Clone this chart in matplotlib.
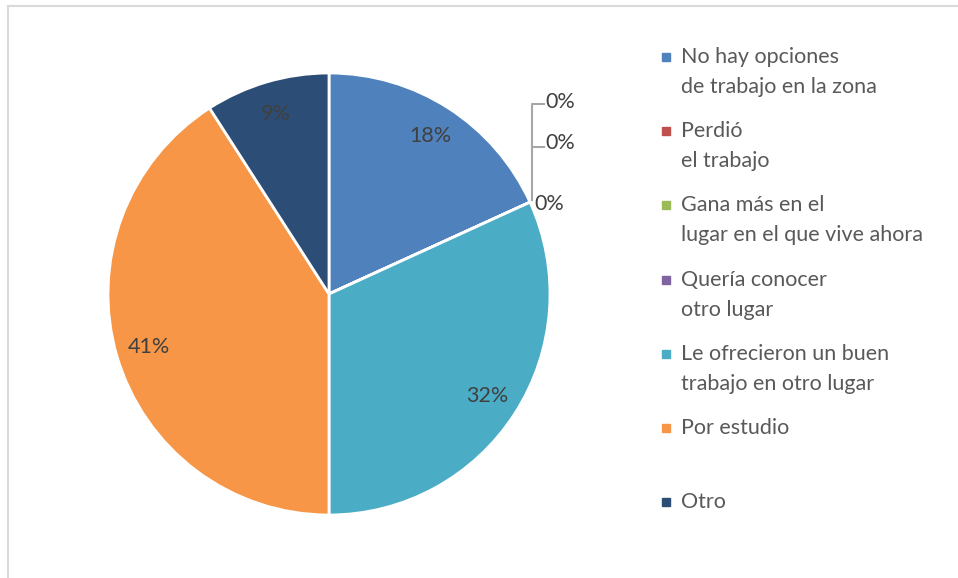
import numpy as np
import matplotlib
matplotlib.use('Agg')
from matplotlib import pyplot as plt

categories = ['No hay opciones\nde trabajo en la zona', 'Perdió\nel trabajo',
              'Gana más en el\nlugar en el que vive ahora', 'Quería conocer\notro lugar',
              'Le ofrecieron un buen\ntrabajo en otro lugar', 'Por estudio', 'Otro']
counts = [4, 0, 0, 0, 7, 9, 2]
colors = ['#4F81BD', '#C0504D', '#9BBB59', '#8064A2', '#4BACC6', '#F79646', '#2C4D75']

plt.rcParams['font.family'] = ['Lato', 'DejaVu Sans']
W, H = 958, 578
fs = 15.5
fig = plt.figure(figsize=(W / 100, H / 100), dpi=100)

# chart border (only left and top visible)
fig.add_artist(plt.Line2D([8 / W, 8 / W], [0, 1 - 6 / H], color='#D9D9D9', lw=1.5))
fig.add_artist(plt.Line2D([8 / W, 1], [1 - 6 / H, 1 - 6 / H], color='#D9D9D9', lw=1.5))

cx, cy, r = 329, 294, 221
ax = fig.add_axes([(cx - r) / W, (H - cy - r) / H, 2 * r / W, 2 * r / H])
total = sum(counts)

def fmt(p):
    return '' if p < 0.5 else f'{p:.0f}%'

wedges, texts, autotexts = ax.pie(counts, colors=colors, startangle=90, counterclock=False,
                                  autopct=fmt, pctdistance=0.85,
                                  wedgeprops={'edgecolor': 'white', 'linewidth': 2},
                                  textprops={'fontsize': fs, 'color': '#404040'})
ax.set_xlim(-1, 1)
ax.set_ylim(-1, 1)
ax.set_aspect('equal')
ax.axis('off')

# zero-value labels with leader lines
ang = np.deg2rad(360 * sum(counts[:1]) / total)
ex, ey = np.sin(ang), np.cos(ang)
lx = ex + 0.01
zero_y = [0.860, 0.665]
ax.plot([lx, lx, lx + 0.055], [ey + 0.01, zero_y[0], zero_y[0]], color='#A6A6A6', lw=1.5, clip_on=False)
ax.plot([lx, lx + 0.055], [zero_y[1], zero_y[1]], color='#A6A6A6', lw=1.5, clip_on=False)
ax.text(lx + 0.06, zero_y[0] + 0.01, '0%', fontsize=fs, color='#404040', va='center', ha='left')
ax.text(lx + 0.06, zero_y[1] + 0.02, '0%', fontsize=fs, color='#404040', va='center', ha='left')
ax.text(ex + 0.02, ey - 0.01, '0%', fontsize=fs, color='#404040', va='center', ha='left')

# legend
for i, (lab, col) in enumerate(zip(categories, colors)):
    ty = 57 + i * 74.2
    fig.patches.append(plt.Rectangle(((666 - 4) / W, 1 - (ty + 4) / H), 8 / W, 8 / H,
                                     transform=fig.transFigure, color=col))
    lines = lab.split('\n')
    for k, line in enumerate(lines):
        fig.text(681 / W, 1 - (ty + 30 * k) / H, line, fontsize=fs, color='#595959', va='center')

fig.savefig('out.png', dpi=100)
